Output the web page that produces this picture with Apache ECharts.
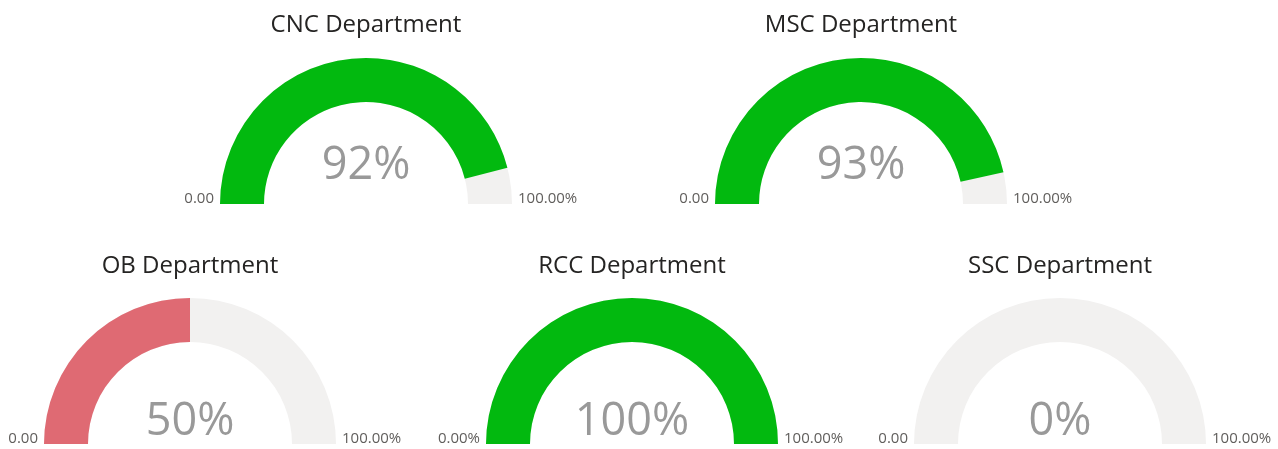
<!DOCTYPE html>
<html>
<head>
<meta charset="utf-8">
<script src="https://cdn.jsdelivr.net/npm/echarts@6/dist/echarts.min.js"></script>
<style>
html, body { margin: 0; padding: 0; background: #fff; }
#main { width: 1278px; height: 449px; }
</style>
</head>
<body>
<div id="main"></div>
<script>
// 部门完成率
const depts = ['CNC Department', 'MSC Department', 'OB Department', 'RCC Department', 'SSC Department']
const values = [92, 93, 50, 100, 0]
const minLabels = ['0.00', '0.00', '0.00', '0.00%', '0.00']
const maxLabels = ['100.00%', '100.00%', '100.00%', '100.00%', '100.00%']
const target = 90 // below this the bar turns red

// layout of each gauge (px)
const centers = [[366, 204], [861, 204], [190, 444], [632, 444], [1060, 444]]
const titleOffsets = [-179, -179, -178, -178, -178]
const detailOffsets = [-38, -38, -22, -22, -22]

const FONT = '"Segoe UI", "Open Sans", sans-serif'
const R = 146
const W = 44

var myChart = echarts.init(document.getElementById('main'))

let series = depts.map((name, i) => {
    return {
        type: 'gauge',
        center: centers[i],
        radius: R,
        startAngle: 180,
        endAngle: 0,
        min: 0,
        max: 100,
        splitNumber: 1,
        silent: true,
        animation: false,
        axisLine: {
            lineStyle: { width: W, color: [[1, '#F2F1F0']] }
        },
        progress: {
            show: true,
            width: W,
            roundCap: false,
            itemStyle: { color: values[i] < target ? '#DF6A73' : '#02B90F' }
        },
        pointer: { show: false },
        anchor: { show: false },
        axisTick: { show: false },
        splitLine: { show: false, length: 0, distance: 0 },
        axisLabel: {
            distance: -66,
            formatter: (v) => v === 0 ? '{l|' + minLabels[i] + '}' : '{r|' + maxLabels[i] + '}',
            rich: {
                l: { width: 60, align: 'right', fontSize: 15, color: '#605E5C', fontFamily: FONT, padding: [0, 0, 10, 0] },
                r: { width: 60, align: 'left', fontSize: 15, color: '#605E5C', fontFamily: FONT, padding: [0, 0, 10, 0] }
            }
        },
        title: {
            offsetCenter: [0, titleOffsets[i]],
            fontSize: 24,
            color: '#252423',
            fontFamily: FONT
        },
        detail: {
            offsetCenter: [0, detailOffsets[i]],
            fontSize: 45,
            fontWeight: 'normal',
            color: '#999999',
            fontFamily: FONT,
            formatter: '{value}%'
        },
        data: [{ name: name, value: values[i] }]
    }
})

myChart.setOption({
    backgroundColor: '#fff',
    series: series
})
</script>
</body>
</html>
